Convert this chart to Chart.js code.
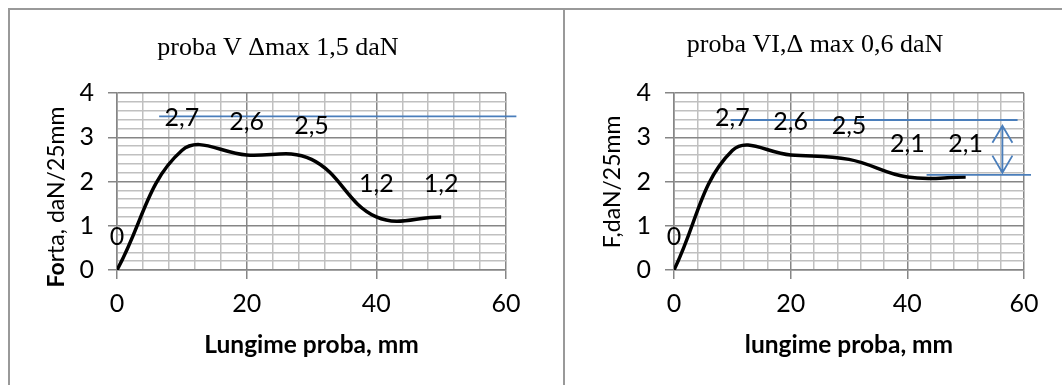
<!DOCTYPE html>
<html>
<head>
<meta charset="utf-8">
<script src="https://cdn.jsdelivr.net/npm/chart.js@4"></script>
<style>
  body { margin: 0; background: #fff; }
  .frame { position: absolute; background: #999; }
  canvas { position: absolute; top: 0; }
</style>
</head>
<body>
<div class="frame" style="left:8px;top:8px;width:1054px;height:2px"></div>
<div class="frame" style="left:8px;top:8px;width:2px;height:377px"></div>
<div class="frame" style="left:563px;top:8px;width:2px;height:377px"></div>
<div style="position:absolute;left:0;top:0;width:564px;height:385px"><canvas id="chartV"></canvas></div>
<div style="position:absolute;left:564px;top:0;width:498px;height:385px"><canvas id="chartVI"></canvas></div>
<script>
// lungime proba (mm)
const lengths = [0, 10, 20, 30, 40, 50];
// forta, daN/25mm
const forceV = [0, 2.7, 2.6, 2.5, 1.2, 1.2];
const forceVI = [0, 2.7, 2.6, 2.5, 2.1, 2.1];

const xMajor = [0, 20, 40, 60];
const yMajor = [0, 1, 2, 3, 4];

// blue hand-drawn marks (data units)
const refV_x = [6.5, 61.6];
const refV_y = 3.47;
const refVIupper_x = [9.7, 58.9];
const refVIupper_y = 3.39;
const refVIlower_x = [43.3, 61.2];
const refVIlower_y = 2.15;
const arrowVI_x = 56.3;
const arrowVI_y = [3.26, 2.2];

const GRID_MAJOR = '#868686';
const GRID_MINOR = '#c0c0c0';
const BLUE = '#4a7ebb';
const TICK_FONT = { family: 'Lato', size: 25 };

function isMajor(v, list) {
    return list.some(m => Math.abs(m - v) < 1e-6);
}

function points(xs, ys) {
    return xs.map((x, i) => ({ x: x, y: Array.isArray(ys) ? ys[i] : ys }));
}

// data labels above each point, decimal comma
const labelPlugin = {
    id: 'labels',
    afterDatasetsDraw(chart) {
        const meta = chart.getDatasetMeta(0);
        const ctx = chart.ctx;
        ctx.save();
        ctx.font = '25px Lato';
        ctx.fillStyle = '#000';
        ctx.textAlign = 'center';
        ctx.textBaseline = 'middle';
        meta.data.forEach((pt, i) => {
            const v = chart.data.datasets[0].data[i].y;
            ctx.fillText(String(v).replace('.', ','), pt.x, pt.y - 33);
        });
        ctx.restore();
    }
};

// title + y axis title drawn by hand (mixed weights)
const textPlugin = {
    id: 'texts',
    afterDraw(chart, args, opts) {
        const ctx = chart.ctx;
        ctx.save();
        ctx.fillStyle = '#000';
        ctx.textBaseline = 'middle';
        ctx.textAlign = 'center';
        ctx.font = '26px "Liberation Serif"';
        ctx.fillText(opts.title, opts.titleX, opts.titleY);

        ctx.translate(opts.yTitleX, opts.yTitleY);
        ctx.rotate(-Math.PI / 2);
        ctx.textAlign = 'left';
        ctx.font = 'bold 23px Lato';
        const wb = ctx.measureText(opts.yBold).width;
        ctx.font = '23px Lato';
        const wr = ctx.measureText(opts.yRest).width;
        let x = -(wb + wr) / 2;
        ctx.font = 'bold 23px Lato';
        ctx.fillText(opts.yBold, x, 0);
        ctx.font = '23px Lato';
        ctx.fillText(opts.yRest, x + wb, 0);
        ctx.restore();
    }
};

// double headed arrow
const arrowPlugin = {
    id: 'arrow',
    afterDatasetsDraw(chart, args, opts) {
        if (!opts.show) return;
        const xs = chart.scales.x, ys = chart.scales.y;
        const px = xs.getPixelForValue(arrowVI_x);
        const y1 = ys.getPixelForValue(arrowVI_y[0]);
        const y2 = ys.getPixelForValue(arrowVI_y[1]);
        const ctx = chart.ctx;
        ctx.save();
        ctx.strokeStyle = BLUE;
        ctx.lineWidth = 1.8;
        ctx.beginPath();
        ctx.moveTo(px, y1); ctx.lineTo(px, y2);
        ctx.moveTo(px - 10, y1 + 17); ctx.lineTo(px, y1); ctx.lineTo(px + 10, y1 + 17);
        ctx.moveTo(px - 10, y2 - 17); ctx.lineTo(px, y2); ctx.lineTo(px + 10, y2 - 17);
        ctx.stroke();
        ctx.restore();
    }
};

function makeChart(id, force, refs, xTitle, yAxisWidth, rightPad, texts, showArrow) {
    const datasets = [{
        data: points(lengths, force),
        borderColor: '#000',
        borderWidth: 3.5,
        pointRadius: 0,
        tension: 0.4,
        order: 2
    }];
    refs.forEach(r => datasets.push({
        data: points(r[0], r[1]),
        borderColor: BLUE,
        borderWidth: 1.8,
        pointRadius: 0,
        tension: 0,
        clip: false,
        order: 1
    }));

    return new Chart(document.getElementById(id), {
        type: 'line',
        data: { datasets: datasets },
        plugins: [labelPlugin, textPlugin, arrowPlugin],
        options: {
            responsive: true,
            maintainAspectRatio: false,
            animation: false,
            layout: { padding: { top: 93, right: rightPad, bottom: 0, left: 0 } },
            plugins: {
                legend: { display: false },
                tooltip: { enabled: false },
                texts: texts,
                arrow: { show: showArrow }
            },
            scales: {
                x: {
                    type: 'linear',
                    min: 0, max: 60,
                    afterFit: s => { s.height = 115; },
                    ticks: {
                        stepSize: 4,
                        autoSkip: false,
                        maxRotation: 0,
                        padding: 10,
                        color: '#000',
                        font: TICK_FONT,
                        callback: v => isMajor(v, xMajor) ? String(v) : ''
                    },
                    grid: {
                        color: c => isMajor(c.tick.value, xMajor) ? GRID_MAJOR : GRID_MINOR,
                        tickColor: c => isMajor(c.tick.value, xMajor) ? GRID_MAJOR : 'rgba(0,0,0,0)',
                        tickLength: 9,
                        lineWidth: 1.5
                    },
                    border: { color: GRID_MAJOR, width: 1.5 },
                    title: {
                        display: true,
                        text: xTitle,
                        color: '#000',
                        font: { family: 'Lato', size: 24.5, weight: 'bold' },
                        padding: { top: 0, bottom: 25 }
                    }
                },
                y: {
                    min: 0, max: 4,
                    afterFit: s => { s.width = yAxisWidth; },
                    ticks: {
                        stepSize: 0.2,
                        autoSkip: false,
                        padding: 14,
                        color: '#000',
                        font: TICK_FONT,
                        callback: v => isMajor(v, yMajor) ? String(Math.round(v)) : ''
                    },
                    grid: {
                        color: c => isMajor(c.tick.value, yMajor) ? GRID_MAJOR : GRID_MINOR,
                        tickColor: c => isMajor(c.tick.value, yMajor) ? GRID_MAJOR : 'rgba(0,0,0,0)',
                        tickLength: 9,
                        lineWidth: 1.5
                    },
                    border: { color: GRID_MAJOR, width: 1.5 }
                }
            }
        }
    });
}

makeChart('chartV', forceV,
    [[refV_x, refV_y]],
    'Lungime proba, mm', 117, 58,
    { title: 'proba V \u0394max 1,5 daN', titleX: 278, titleY: 48,
      yBold: 'Fo', yRest: 'rta, daN/25mm', yTitleX: 57, yTitleY: 197 },
    false);

makeChart('chartVI', forceVI,
    [[refVIupper_x, refVIupper_y], [refVIlower_x, refVIlower_y]],
    'lungime proba, mm', 110, 38,
    { title: 'proba VI,\u0394 max 0,6 daN', titleX: 251, titleY: 45,
      yBold: '', yRest: 'F,daN/25mm', yTitleX: 49, yTitleY: 182 },
    true);
</script>
</body>
</html>
